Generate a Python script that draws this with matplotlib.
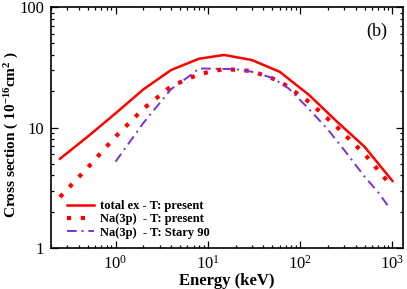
import math
import matplotlib
matplotlib.use("Agg")
import matplotlib.pyplot as plt
from matplotlib.ticker import LogLocator, FuncFormatter, NullFormatter

plt.rcParams['font.family'] = ['Liberation Serif', 'DejaVu Serif']
plt.rcParams['mathtext.fontset'] = 'custom'
plt.rcParams['mathtext.rm'] = 'Liberation Serif'
plt.rcParams['mathtext.bf'] = 'Liberation Serif:bold'
plt.rcParams['mathtext.it'] = 'Liberation Serif:italic'

# Data
energy_present = [0.25, 0.5, 1, 2, 4, 8, 15, 30, 60, 125, 250, 500, 1000]
total_ex = [5.5, 8.4, 13.1, 20.7, 30.0, 37.2, 40.0, 36.3, 29.0, 18.6, 11.2, 6.9, 3.6]
na3p_present = [2.65, 4.65, 8.4, 14.3, 22.0, 27.7, 30.6, 29.4, 24.3, 16.3, 10.1, 6.0, 3.2]

energy_stary = [1, 2, 4, 7, 8, 20, 30, 50, 75, 125, 200, 300, 500, 700, 950]
na3p_stary = [5.2, 10.9, 20.8, 28.3, 30.9, 30.5, 29.0, 25.8, 21.1, 14.2, 9.6, 6.5, 3.9, 2.9, 2.1]

labels = ["total ex - T: present", "Na(3p)  - T: present", "Na(3p)  - T: Stary 90"]

fig = plt.figure(figsize=(4.07, 2.89), dpi=100)
ax = fig.add_axes([51/407, 1-248/289, 352/407, 241/289])

ax.plot(energy_present, total_ex, color='#ff0000', lw=1.8, label=labels[0])
ax.plot(energy_present, na3p_present, color='#ff0000', lw=3.0,
        linestyle=(0, (1, 2.3)), dash_capstyle='butt', label=labels[1])
ax.plot(energy_stary, na3p_stary, color='#7b2fd8', lw=1.4,
        linestyle=(0, (5, 2.5, 1, 2.5)), label=labels[2])

ax.set_xscale('log')
ax.set_yscale('log')
ax.set_xlim(0.2, 1300)
ax.set_ylim(1, 100)

ax.xaxis.set_major_locator(LogLocator(base=10))
ax.xaxis.set_minor_locator(LogLocator(base=10, subs=range(2, 10)))
ax.yaxis.set_major_locator(LogLocator(base=10))
ax.yaxis.set_minor_locator(LogLocator(base=10, subs=range(2, 10)))
ax.xaxis.set_major_formatter(FuncFormatter(lambda v, p: r"$10^{%d}$" % round(math.log10(v))))
ax.yaxis.set_major_formatter(FuncFormatter(lambda v, p: "%d" % round(v)))
ax.xaxis.set_minor_formatter(NullFormatter())
ax.yaxis.set_minor_formatter(NullFormatter())

ax.tick_params(which='both', direction='in', top=True, right=True, labelsize=12, width=0.9)
ax.tick_params(which='major', length=5, pad=5)
ax.tick_params(which='minor', length=2.5)
for s in ax.spines.values():
    s.set_linewidth(1.2)

ax.set_xlabel("Energy (keV)", fontsize=12, fontweight='bold', labelpad=0)
ax.set_ylabel(r"Cross section ( 10$^{\mathbf{-16}}$cm$^{\mathbf{2}}$ )", fontsize=11,
              fontweight='bold')
ax.yaxis.set_label_coords(-0.085, 0.47)

ax.text(0.955, 0.9, "(b)", transform=ax.transAxes, fontsize=13, ha='right', va='center')

leg = ax.legend(loc='lower left', bbox_to_anchor=(0.018, 0.0), frameon=False,
                prop={'family': 'Liberation Serif', 'weight': 'bold', 'size': 9.0},
                handlelength=2.2, handletextpad=0.5, labelspacing=0.1, borderaxespad=0.35)

fig.savefig("out.png", dpi=100)
